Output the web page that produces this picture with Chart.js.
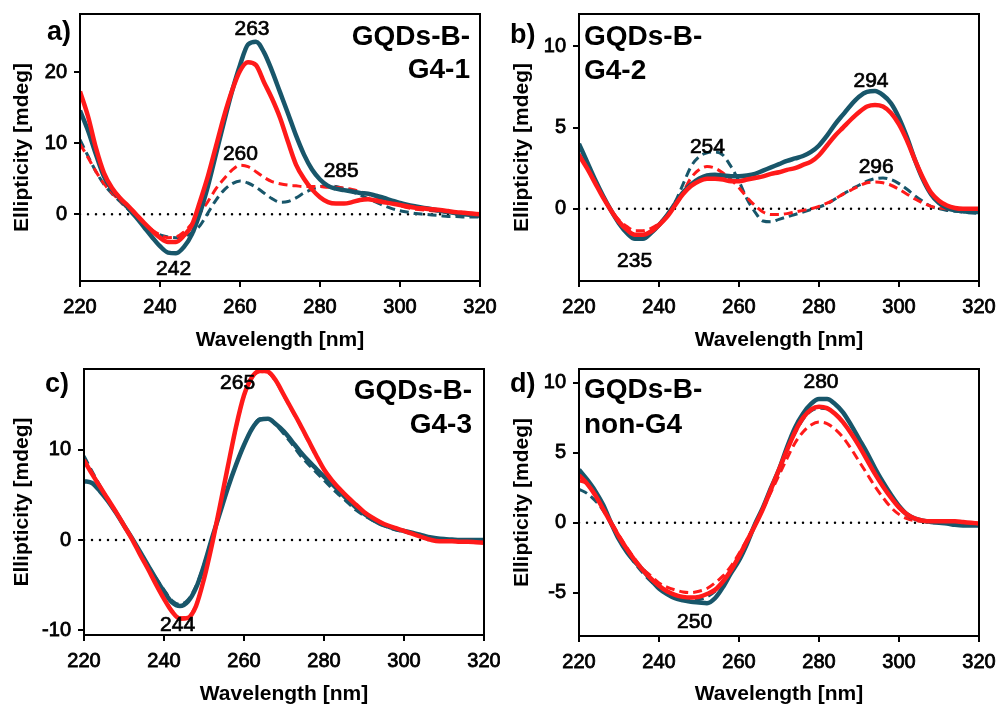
<!DOCTYPE html>
<html>
<head>
<meta charset="utf-8">
<title>CD spectra</title>
<script src="https://cdn.jsdelivr.net/npm/chart.js@4.4.1/dist/chart.umd.min.js"></script>
<style>
    body { margin: 0; background: #fff; }
    #wrap { position: relative; width: 999px; height: 709px; }
    #wrap canvas { position: absolute; }
</style>
</head>
<body>
<div id="wrap">
    <canvas id="chart-a" width="500" height="355" style="left:0;top:0"></canvas>
    <canvas id="chart-b" width="499" height="355" style="left:500px;top:0"></canvas>
    <canvas id="chart-c" width="500" height="354" style="left:0;top:355px"></canvas>
    <canvas id="chart-d" width="499" height="354" style="left:500px;top:355px"></canvas>
</div>
<script>
// Wavelength grid, nm
const wavelength = [220, 222, 224, 226, 228, 230, 232, 234, 236, 238,
                    240, 242, 244, 246, 248, 250, 252, 254, 256, 258,
                    260, 262, 264, 266, 268, 270, 272, 274, 276, 278,
                    280, 282, 284, 286, 288, 290, 292, 294, 296, 298,
                    300, 302, 304, 306, 308, 310, 312, 314, 316, 318, 320];

const xTicks = [220, 240, 260, 280, 300, 320];
const yTicksA = [0, 10, 20];
const yTicksB = [0, 5, 10];
const yTicksC = [-10, 0, 10];
const yTicksD = [-5, 0, 5, 10];

// a) GQDs-B-G4-1, ellipticity in mdeg
const aRedSolid = [17.3, 13.8, 9.3, 5.8, 3.7, 2.3, 1.2, 0.0, -1.2, -2.3,
                   -3.3, -3.9, -3.9, -3.0, -1.5, 1.8, 5.4, 9.6, 13.8, 17.4,
                   20.2, 21.4, 21.0, 18.6, 16.3, 13.6, 10.2, 7.0, 5.0, 3.5,
                   2.4, 1.7, 1.5, 1.5, 1.7, 2.0, 2.1, 1.9, 1.7, 1.5,
                   1.3, 1.1, 0.9, 0.8, 0.7, 0.6, 0.45, 0.3, 0.2, 0.1, 0.0];
const aTealSolid = [14.6, 11.8, 8.4, 5.3, 3.5, 2.2, 0.9, -0.4, -1.8, -3.2,
                    -4.5, -5.4, -5.5, -4.6, -2.8, 0.2, 4.0, 8.5, 13.0, 17.3,
                    21.0, 23.9, 24.3, 22.8, 20.2, 17.2, 14.2, 11.1, 8.4, 6.3,
                    4.9, 4.0, 3.6, 3.4, 3.2, 3.0, 2.9, 2.6, 2.3, 1.9,
                    1.6, 1.3, 1.1, 0.9, 0.7, 0.5, 0.3, 0.15, 0.0, -0.1, -0.2];
const aRedDashed = [9.9, 8.0, 6.0, 4.3, 3.0, 1.9, 0.8, -0.3, -1.3, -2.2,
                    -2.9, -3.3, -3.2, -2.5, -1.3, 0.2, 1.8, 3.6, 5.0, 6.2,
                    6.9, 6.7, 6.0, 5.2, 4.6, 4.3, 4.1, 4.0, 3.9, 3.9,
                    3.9, 3.8, 3.8, 3.7, 3.5, 3.2, 2.8, 2.4, 2.0, 1.6,
                    1.2, 0.9, 0.7, 0.6, 0.5, 0.4, 0.3, 0.2, 0.1, 0.05, 0.0];
const aTealDashed = [10.5, 8.2, 6.0, 4.2, 2.9, 1.8, 0.7, -0.4, -1.4, -2.3,
                     -2.9, -3.2, -3.3, -3.1, -2.6, -1.6, 0.2, 2.0, 3.4, 4.3,
                     4.7, 4.4, 3.8, 3.0, 2.2, 1.7, 1.8, 2.3, 3.0, 3.5,
                     3.9, 4.0, 3.9, 3.6, 3.2, 2.7, 2.2, 1.7, 1.2, 0.8,
                     0.5, 0.3, 0.1, 0.0, -0.1, -0.2, -0.3, -0.3, -0.4, -0.4, -0.4];

// b) GQDs-B-G4-2
const bRedSolid = [3.3, 2.5, 1.6, 0.7, -0.1, -0.8, -1.3, -1.6, -1.6, -1.4,
                   -1.0, -0.5, 0.2, 0.9, 1.4, 1.7, 1.85, 1.85, 1.8, 1.7,
                   1.7, 1.8, 1.9, 2.0, 2.15, 2.25, 2.4, 2.5, 2.7, 2.9,
                   3.3, 3.9, 4.5, 5.0, 5.5, 5.95, 6.3, 6.4, 6.3, 5.9,
                   5.2, 4.2, 3.0, 1.9, 1.0, 0.5, 0.2, 0.05, 0.0, 0.0, 0.0];
const bTealSolid = [4.0, 2.9, 1.8, 0.8, -0.1, -0.9, -1.5, -1.85, -1.85, -1.5,
                    -1.0, -0.4, 0.3, 1.0, 1.5, 1.85, 2.05, 2.1, 2.05, 2.0,
                    2.0, 2.05, 2.15, 2.35, 2.55, 2.75, 2.95, 3.1, 3.25, 3.5,
                    3.9, 4.5, 5.2, 5.8, 6.4, 6.9, 7.2, 7.25, 7.0, 6.5,
                    5.6, 4.4, 3.0, 1.8, 0.9, 0.35, 0.05, -0.1, -0.15, -0.2, -0.2];
const bRedDashed = [3.4, 2.5, 1.6, 0.7, -0.1, -0.7, -1.1, -1.35, -1.35, -1.2,
                    -0.9, -0.4, 0.2, 1.0, 1.9, 2.4, 2.6, 2.5, 2.2, 1.8,
                    1.3, 0.7, 0.2, -0.2, -0.35, -0.35, -0.3, -0.2, -0.1, 0.0,
                    0.15, 0.35, 0.6, 0.9, 1.15, 1.4, 1.6, 1.65, 1.6, 1.45,
                    1.2, 0.9, 0.6, 0.35, 0.15, 0.05, 0.0, -0.05, -0.1, -0.15, -0.15];
const bTealDashed = [4.0, 2.9, 1.8, 0.8, -0.1, -0.9, -1.5, -1.8, -1.8, -1.5,
                     -1.0, -0.4, 0.4, 1.5, 2.6, 3.2, 3.45, 3.5, 3.3, 2.6,
                     1.7, 0.6, -0.2, -0.75, -0.8, -0.65, -0.5, -0.35, -0.2, -0.05,
                     0.1, 0.3, 0.6, 0.9, 1.2, 1.45, 1.7, 1.85, 1.9, 1.8,
                     1.55, 1.2, 0.8, 0.45, 0.15, 0.0, -0.1, -0.15, -0.2, -0.25, -0.3];

// c) GQDs-B-G4-3
const cRedSolid = [8.8, 7.3, 5.9, 4.5, 3.1, 1.6, 0.1, -1.6, -3.2, -4.9,
                   -6.5, -7.9, -8.7, -8.6, -7.3, -4.3, -0.5, 3.8, 8.2, 12.5,
                   16.0, 18.0, 18.7, 18.6, 17.6, 16.0, 14.4, 12.8, 11.1, 9.4,
                   7.8, 6.6, 5.6, 4.7, 3.9, 3.1, 2.5, 2.0, 1.6, 1.3,
                   1.0, 0.7, 0.4, 0.1, -0.1, -0.15, -0.15, -0.2, -0.2, -0.25, -0.3];
const cTealSolid = [6.5, 6.3, 5.4, 4.3, 3.0, 1.6, 0.2, -1.3, -2.8, -4.3,
                    -5.7, -6.9, -7.3, -6.8, -5.3, -2.8, 0.2, 3.0, 5.8, 8.3,
                    10.5, 12.3, 13.3, 13.4, 12.8, 12.0, 10.9, 9.8, 8.8, 7.9,
                    7.0, 6.2, 5.3, 4.4, 3.6, 2.9, 2.3, 1.8, 1.5, 1.2,
                    1.0, 0.8, 0.6, 0.35, 0.2, 0.1, 0.05, 0.0, 0.0, 0.0, 0.0];
const cRedDashed = [8.9, 7.4, 5.9, 4.5, 3.1, 1.6, 0.1, -1.5, -3.1, -4.8,
                    -6.4, -7.8, -8.6, -8.5, -7.2, -4.2, -0.4, 3.8, 8.1, 12.4,
                    15.9, 17.9, 18.6, 18.5, 17.5, 15.9, 14.3, 12.7, 11.0, 9.3,
                    7.8, 6.6, 5.6, 4.7, 3.9, 3.1, 2.5, 2.0, 1.6, 1.3,
                    1.0, 0.7, 0.4, 0.1, -0.1, -0.15, -0.15, -0.2, -0.2, -0.25, -0.3];
const cTealDashed = [9.3, 7.6, 6.0, 4.5, 3.0, 1.6, 0.2, -1.3, -2.8, -4.2,
                     -5.5, -6.7, -7.1, -6.6, -5.1, -2.7, 0.2, 3.0, 5.8, 8.3,
                     10.5, 12.3, 13.4, 13.4, 12.7, 11.7, 10.6, 9.4, 8.4, 7.5,
                     6.6, 5.7, 4.9, 4.1, 3.3, 2.7, 2.2, 1.8, 1.4, 1.1,
                     0.9, 0.7, 0.5, 0.3, 0.15, 0.05, 0.0, 0.0, 0.0, 0.0, 0.0];

// d) GQDs-B-non-G4
const dRedSolid = [3.4, 2.8, 2.0, 1.0, 0.0, -1.0, -1.9, -2.7, -3.4, -4.0,
                   -4.5, -4.9, -5.15, -5.3, -5.35, -5.3, -5.1, -4.8, -4.2, -3.4,
                   -2.4, -1.3, -0.2, 1.0, 2.4, 3.8, 5.2, 6.5, 7.5, 8.1,
                   8.3, 8.2, 7.8, 7.2, 6.4, 5.5, 4.5, 3.5, 2.6, 1.8,
                   1.1, 0.6, 0.3, 0.15, 0.1, 0.1, 0.1, 0.1, 0.05, 0.0, -0.05];
const dTealSolid = [3.8, 3.1, 2.3, 1.3, 0.0, -1.2, -2.1, -2.8, -3.4, -4.1,
                    -4.7, -5.1, -5.4, -5.55, -5.65, -5.7, -5.75, -5.4, -4.6, -3.6,
                    -2.7, -1.5, -0.1, 1.1, 2.5, 3.8, 5.4, 6.8, 7.8, 8.5,
                    8.85, 8.85, 8.5, 7.9, 7.0, 6.0, 5.0, 3.9, 2.9, 2.0,
                    1.2, 0.6, 0.3, 0.15, 0.05, 0.0, -0.05, -0.15, -0.2, -0.2, -0.2];
const dRedDashed = [3.0, 2.8, 2.0, 1.1, 0.1, -0.9, -1.8, -2.6, -3.3, -3.8,
                    -4.3, -4.6, -4.8, -4.95, -5.0, -4.9, -4.7, -4.3, -3.8, -3.1,
                    -2.2, -1.2, -0.1, 1.0, 2.2, 3.4, 4.6, 5.7, 6.5, 7.0,
                    7.2, 7.1, 6.7, 6.1, 5.3, 4.4, 3.5, 2.6, 1.8, 1.1,
                    0.6, 0.3, 0.15, 0.1, 0.1, 0.1, 0.1, 0.05, 0.0, 0.0, -0.05];
const dTealDashed = [2.4, 2.1, 1.6, 0.9, -0.1, -1.2, -2.1, -2.9, -3.6, -4.2,
                     -4.7, -5.1, -5.35, -5.5, -5.55, -5.5, -5.3, -4.9, -4.3, -3.5,
                     -2.5, -1.4, -0.2, 1.0, 2.4, 3.8, 5.2, 6.4, 7.4, 8.0,
                     8.2, 8.15, 7.8, 7.2, 6.4, 5.5, 4.5, 3.5, 2.6, 1.8,
                     1.1, 0.6, 0.3, 0.1, 0.0, 0.0, -0.05, -0.1, -0.15, -0.15, -0.15];

// Band maxima / minima marked on each panel, nm
const aPeaks = [263, 260, 285, 242];
const bPeaks = [254, 235, 294, 296];
const cPeaks = [265, 244];
const dPeaks = [280, 250];

const TEAL = '#18566a';
const RED = '#ff1a1a';
const FONT = '"Liberation Sans", Arial, Helvetica, sans-serif';

Chart.defaults.font.family = FONT;
Chart.defaults.color = '#000';

const panels = [
    {
        canvasId: 'chart-a', area: { left: 80, top: 14, right: 480, bottom: 281 },
        yMin: -9.4, yMax: 28.2, yTicks: yTicksA,
        series: [aRedSolid, aTealSolid, aRedDashed, aTealDashed],
        tag: 'a)', tagPos: [47, 40],
        name: ['GQDs-B-', 'G4-1'], namePos: [470, 45], nameGap: 33, nameAlign: 'right',
        peaks: aPeaks, peakAt: [[263, 25.3], [260.1, 7.6], [285.3, 5.2], [243.4, -8.6]]
    },
    {
        canvasId: 'chart-b', area: { left: 79, top: 14, right: 479, bottom: 281 },
        yMin: -4.45, yMax: 12, yTicks: yTicksB,
        series: [bRedSolid, bTealSolid, bRedDashed, bTealDashed],
        tag: 'b)', tagPos: [10, 43],
        name: ['GQDs-B-', 'G4-2'], namePos: [84, 45], nameGap: 34, nameAlign: 'left',
        peaks: bPeaks, peakAt: [[252.1, 3.41], [233.9, -3.58], [293, 7.53], [294.3, 2.18]]
    },
    {
        canvasId: 'chart-c', area: { left: 84, top: 14, right: 484, bottom: 280 },
        yMin: -10.5, yMax: 18.9, yTicks: yTicksC,
        series: [cRedSolid, cTealSolid, cRedDashed, cTealDashed],
        tag: 'c)', tagPos: [45, 37],
        name: ['GQDs-B-', 'G4-3'], namePos: [472, 44], nameGap: 34, nameAlign: 'right',
        peaks: cPeaks, peakAt: [[258.4, 16.65], [243.4, -10.05]]
    },
    {
        canvasId: 'chart-d', area: { left: 79, top: 14, right: 479, bottom: 281 },
        yMin: -8.1, yMax: 11, yTicks: yTicksD,
        series: [dRedSolid, dTealSolid, dRedDashed, dTealDashed],
        tag: 'd)', tagPos: [10, 37],
        name: ['GQDs-B-', 'non-G4'], namePos: [84, 43], nameGap: 35, nameAlign: 'left',
        peaks: dPeaks, peakAt: [[280.5, 9.64], [248.9, -7.5]]
    }
];

document.addEventListener('DOMContentLoaded', function() {
    panels.forEach(createPanel);
});

function toPoints(values) {
    return wavelength.map((w, i) => ({ x: w, y: values[i] }));
}

function curve(values, color, width, dash, order) {
    return {
        data: toPoints(values),
        borderColor: color,
        borderWidth: width,
        borderDash: dash,
        pointRadius: 0,
        tension: 0.4,
        cubicInterpolationMode: 'monotone',
        fill: false,
        order: order
    };
}

// Frame, panel letter, sample name and band labels
function decorPlugin(p) {
    return {
        id: 'decor',
        afterDraw(chart) {
            const ctx = chart.ctx;
            const a = chart.chartArea;
            const xs = chart.scales.x;
            const ys = chart.scales.y;
            ctx.save();
            ctx.strokeStyle = '#000';
            ctx.lineWidth = 2;
            ctx.strokeRect(a.left, a.top, a.right - a.left, a.bottom - a.top);

            ctx.fillStyle = '#000';
            ctx.textBaseline = 'alphabetic';
            ctx.font = 'bold 27px ' + FONT;
            ctx.textAlign = 'left';
            ctx.fillText(p.tag, p.tagPos[0], p.tagPos[1]);

            ctx.font = 'bold 28px ' + FONT;
            ctx.textAlign = p.nameAlign;
            p.name.forEach((line, i) => {
                ctx.fillText(line, p.namePos[0], p.namePos[1] + i * p.nameGap);
            });

            // band positions, slightly heavier than regular weight
            ctx.font = '21px ' + FONT;
            ctx.textAlign = 'center';
            ctx.lineWidth = 0.7;
            p.peaks.forEach((nm, i) => {
                const at = p.peakAt[i];
                const px = xs.getPixelForValue(at[0]);
                const py = ys.getPixelForValue(at[1]);
                ctx.fillText(String(nm), px, py);
                ctx.strokeText(String(nm), px, py);
            });
            ctx.restore();
        }
    };
}

function createPanel(p) {
    const canvas = document.getElementById(p.canvasId);
    const W = canvas.width;
    const H = canvas.height;

    const tickGrid = {
        display: true,
        drawOnChartArea: false,
        drawTicks: true,
        tickLength: 6,
        color: '#000',
        lineWidth: 2
    };
    const tickFont = { size: 20 };

    new Chart(canvas, {
        type: 'line',
        data: {
            datasets: [
                curve(p.series[0], RED, 4.5, [], 0),
                curve(p.series[1], TEAL, 4.5, [], 1),
                curve(p.series[2], RED, 3, [9, 5], 2),
                curve(p.series[3], TEAL, 3, [9, 5], 3),
                {
                    // zero reference line
                    data: [{ x: 220, y: 0 }, { x: 320, y: 0 }],
                    borderColor: '#000',
                    borderWidth: 2.5,
                    borderDash: [0, 8],
                    borderCapStyle: 'round',
                    pointRadius: 0,
                    order: 10
                }
            ]
        },
        options: {
            responsive: false,
            animation: false,
            events: [],
            layout: {
                padding: { left: 0, top: p.area.top, right: W - p.area.right, bottom: 0 }
            },
            plugins: {
                legend: { display: false },
                tooltip: { enabled: false }
            },
            scales: {
                x: {
                    type: 'linear',
                    min: 220,
                    max: 320,
                    grid: tickGrid,
                    border: { display: false },
                    ticks: {
                        font: tickFont, padding: 8, maxRotation: 0,
                        textStrokeColor: '#000', textStrokeWidth: 0.8
                    },
                    title: {
                        display: true,
                        text: 'Wavelength [nm]',
                        font: { size: 21, weight: 'bold' },
                        padding: { top: 0, bottom: 2 }
                    },
                    afterBuildTicks: s => { s.ticks = xTicks.map(v => ({ value: v })); },
                    afterFit: s => {
                        s.height = H - p.area.bottom;
                        s.paddingLeft = 0;
                        s.paddingRight = 0;
                    }
                },
                y: {
                    type: 'linear',
                    min: p.yMin,
                    max: p.yMax,
                    grid: tickGrid,
                    border: { display: false },
                    ticks: {
                        font: tickFont, padding: 7,
                        textStrokeColor: '#000', textStrokeWidth: 0.8
                    },
                    title: {
                        display: true,
                        text: 'Ellipticity [mdeg]',
                        font: { size: 21, weight: 'bold' },
                        padding: { top: 10, bottom: 0 }
                    },
                    afterBuildTicks: s => { s.ticks = p.yTicks.map(v => ({ value: v })); },
                    afterFit: s => {
                        s.width = p.area.left;
                        s.paddingTop = 0;
                        s.paddingBottom = 0;
                    }
                }
            }
        },
        plugins: [decorPlugin(p)]
    });
}
</script>
</body>
</html>
